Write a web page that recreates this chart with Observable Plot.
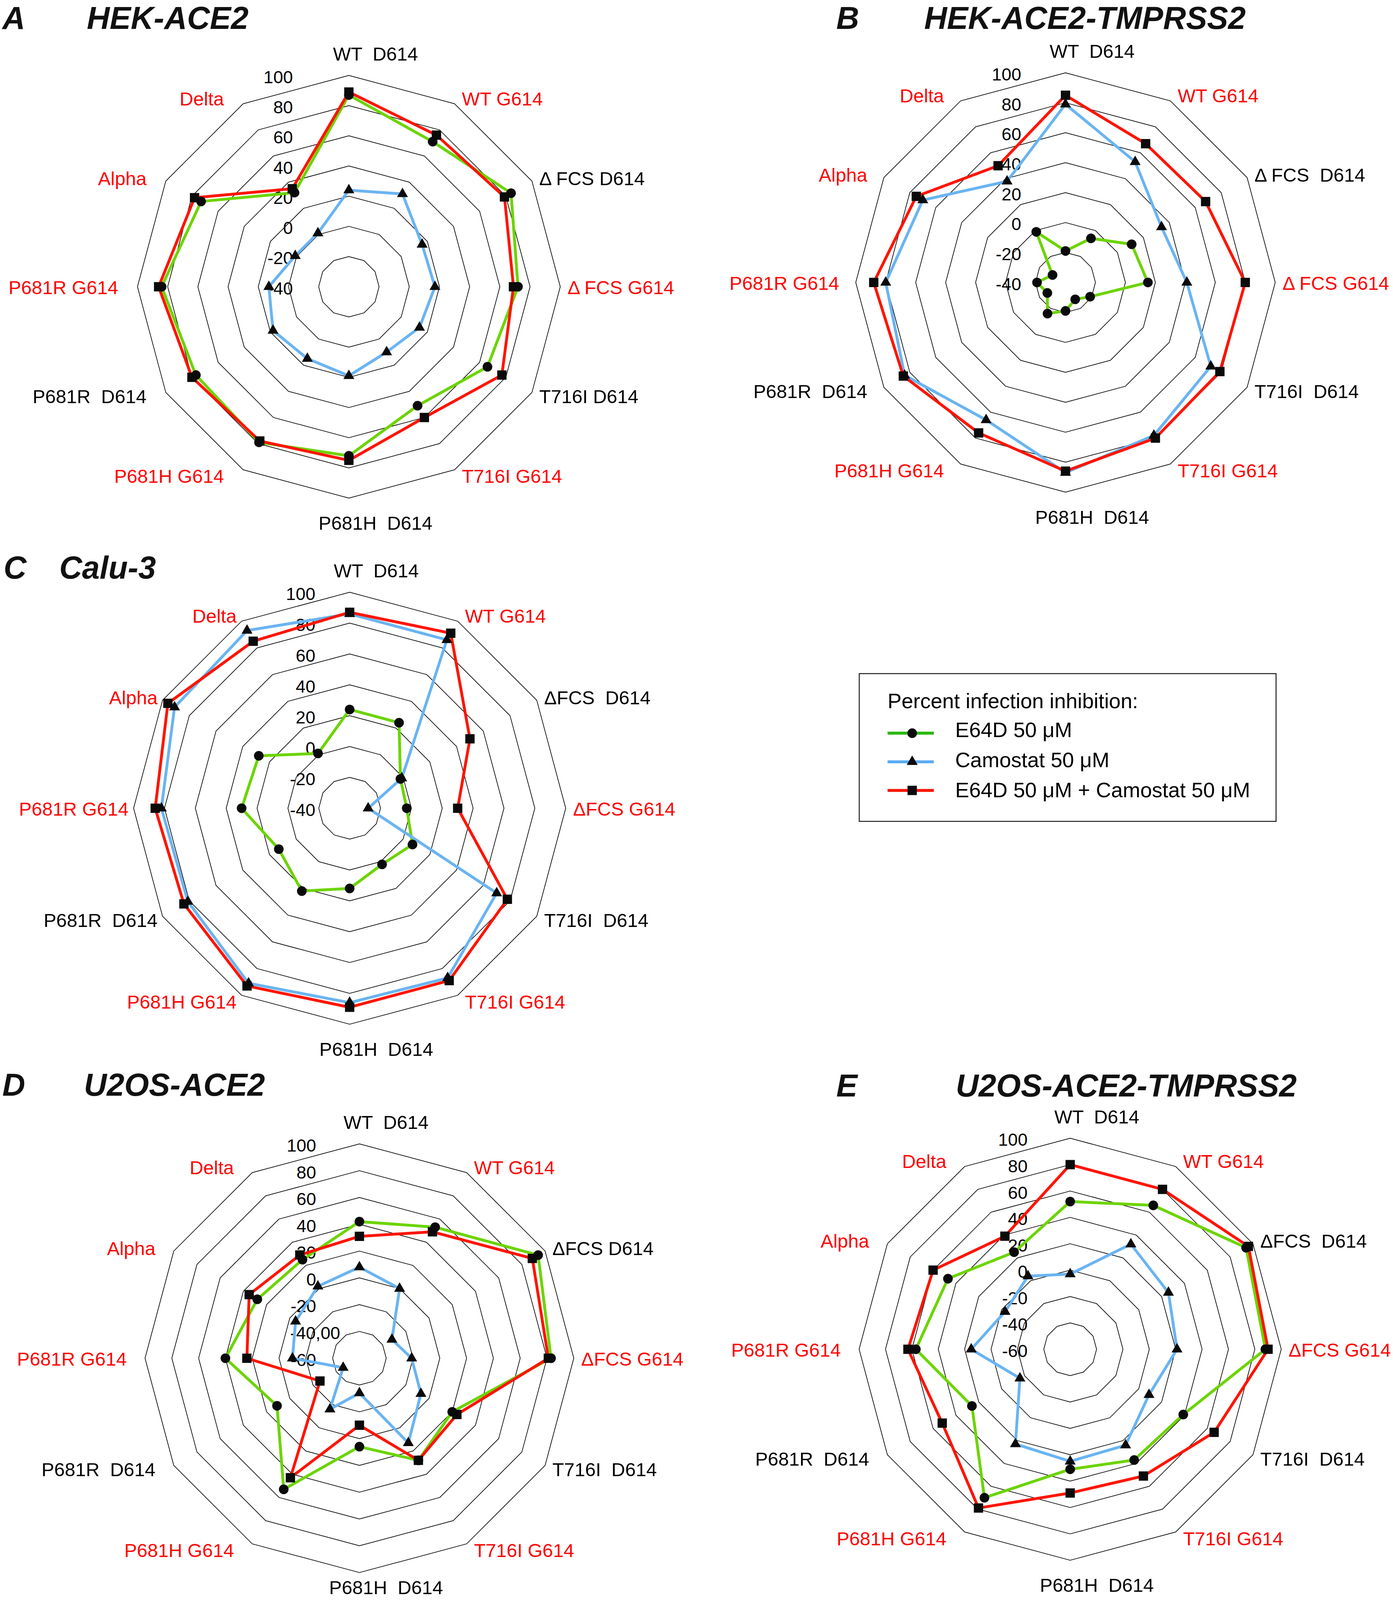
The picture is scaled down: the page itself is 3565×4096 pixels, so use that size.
<!DOCTYPE html>
<html><head><meta charset="utf-8">
<script src="https://cdn.jsdelivr.net/npm/d3@7"></script>
<script src="https://cdn.jsdelivr.net/npm/@observablehq/plot@0.6"></script>
<style>
html,body{margin:0;padding:0;background:#fff;}
#page{position:relative;width:3565px;height:4096px;overflow:hidden;background:#fff;}
.panel{position:absolute;}
#overlay{position:absolute;left:0;top:0;pointer-events:none;}
</style></head>
<body><div id="page"></div>
<script>
const S = 0.852;
const FONT = '"Liberation Sans", Arial, Helvetica, sans-serif';

// ---------------- data ----------------
const labelsA = ["WT  D614","WT G614","\u0394 FCS D614","\u0394 FCS G614","T716I D614","T716I G614","P681H  D614","P681H G614","P681R  D614","P681R G614","Alpha","Delta"];
const labelsB = ["WT  D614","WT G614","\u0394 FCS  D614","\u0394 FCS G614","T716I  D614","T716I G614","P681H  D614","P681H G614","P681R  D614","P681R G614","Alpha","Delta"];
const labelsC = ["WT  D614","WT G614","\u0394FCS  D614","\u0394FCS G614","T716I  D614","T716I G614","P681H  D614","P681H G614","P681R  D614","P681R G614","Alpha","Delta"];
const labelsD = ["WT  D614","WT G614","\u0394FCS D614","\u0394FCS G614","T716I  D614","T716I G614","P681H  D614","P681H G614","P681R  D614","P681R G614","Alpha","Delta"];
const labelsE = ["WT  D614","WT G614","\u0394FCS  D614","\u0394FCS G614","T716I  D614","T716I G614","P681H  D614","P681H G614","P681R  D614","P681R G614","Alpha","Delta"];
const labelColors = ["#000","#ff0000","#000","#ff0000","#000","#ff0000","#000","#ff0000","#000","#ff0000","#ff0000","#ff0000"];

const tickTextABC = ["100","80","60","40","20","0","-20","-40"];
const tickValsABC = [100,80,60,40,20,0,-20,-40];
const tickTextD = ["100","80","60","40","20","0","-20","-40,00","-60"];
const tickTextE = ["100","80","60","40","20","0","-20","-40","-60"];
const tickValsDE = [100,80,60,40,20,0,-20,-40,-60];

// Percent infection inhibition, in category order
const e64dA  = [87, 71, 84, 72, 66, 51, 72, 79, 77, 84, 73, 32];
const camoA  = [24, 31, 16, 17, 14, 10, 19, 15, 18, 13, 1, 1];
const comboA = [89, 76, 79, 69, 77, 60, 75, 78, 80, 86, 78, 35];

const e64dB  = [-19, -6, 11, 15, -21, -27, -21, -16, -26, -21, -30, -1];
const camoB  = [79, 53, 34, 41, 72, 78, 87, 66, 84, 80, 70, 38];
const comboB = [85, 67, 68, 80, 79, 80, 86, 76, 85, 88, 75, 50];

const e64dC  = [24, 24, -2, -3, 7, 2, 12, 22, 13, 30, 28, 1];
const camoC  = [86, 86, -1, -28, 70, 87, 86, 91, 81, 82, 91, 93];
const comboC = [87, 91, 50, 30, 78, 89, 89, 93, 84, 86, 96, 85];

const e64dD  = [42, 53, 94, 83, 20, 28, 6, 53, 11, 40, 28, 25];
const camoD  = [8, 0, -32, -21, -7, 13, -34, -16, -46, -10, -5, 2];
const comboD = [31, 49, 89, 81, 24, 28, -10, 43, -26, 24, 35, 29];

const e64dE  = [52, 66, 94, 88, 39, 37, 31, 70, 26, 57, 47, 25];
const camoE  = [-3, 32, 26, 21, 9, 24, 25, 23, -16, 15, -3, 4];
const comboE = [80, 80, 96, 90, 66, 51, 49, 79, 52, 63, 60, 39];

const legendTitle = "Percent infection inhibition:";
const seriesNames = ["E64D 50 \u03bcM", "Camostat 50 \u03bcM", "E64D 50 \u03bcM + Camostat 50 \u03bcM"];

// ---------------- styles ----------------
const GREEN = "#6cd400", BLUE = "#6ab4f2", RED = "#ff1400";
const LEG_GREEN = "#2cb811", LEG_BLUE = "#5aabf5";
const R_CIRCLE = 14.5, R_TRI = 12.2, R_SQ = 15.8, LINE_W = 8.5;

const panels = [
  {letter:"A", title:"HEK-ACE2", lx:7, tx:261, ty:87, cx:1047, cy:861, R:635, min:-40, max:100, leftGap:58, bottomGap:77,
   tickText:tickTextABC, tickVals:tickValsABC, tickOff:168, labels:labelsA, e64d:e64dA, camo:camoA, combo:comboA},
  {letter:"B", title:"HEK-ACE2-TMPRSS2", lx:2512, tx:2776, ty:87, cx:3200, cy:848, R:630, min:-40, max:100, leftGap:50, bottomGap:77,
   tickText:tickTextABC, tickVals:tickValsABC, tickOff:133, labels:labelsB, e64d:e64dB, camo:camoB, combo:comboB},
  {letter:"C", title:"Calu-3", lx:11, tx:178, ty:1738, cx:1050, cy:2428, R:649, min:-40, max:100, leftGap:15, bottomGap:77,
   tickText:tickTextABC, tickVals:tickValsABC, tickOff:103, labels:labelsC, e64d:e64dC, camo:camoC, combo:comboC},
  {letter:"D", title:"U2OS-ACE2", lx:7, tx:252, ty:3292, cx:1079, cy:4080, R:644, min:-60, max:100, leftGap:55, bottomGap:46,
   tickText:tickTextD, tickVals:tickValsDE, tickOff:130, labels:labelsD, e64d:e64dD, camo:camoD, combo:comboD},
  {letter:"E", title:"U2OS-ACE2-TMPRSS2", lx:2512, tx:2871, ty:3295, cx:3214, cy:4054, R:634, min:-60, max:100, leftGap:55, bottomGap:77,
   tickText:tickTextE, tickVals:tickValsDE, tickOff:128, labels:labelsE, e64d:e64dE, camo:camoE, combo:comboE}
];

const page = document.getElementById("page");

function radar(p) {
  const n = 12, span = p.max - p.min;
  const k = p.R * S / span;               // output px per unit
  const u = px => px * S / k;             // reference px -> data units
  const W = 2090 * S, H = 1640 * S, cxl = 1045 * S, cyl = 800 * S;
  const ang = i => i * Math.PI / 6;
  const pol = (r, i) => ({x: r * Math.sin(ang(i)), y: r * Math.cos(ang(i))});

  const rings = p.tickVals.filter(t => t > p.min).flatMap(t =>
    d3.range(n + 1).map(j => ({ring: t, ...pol(t - p.min, j % n)})));
  const closed = (vals, name) => d3.range(n + 1).map(j => ({name, ...pol(vals[j % n] - p.min, j % n)}));
  const pts = vals => vals.map((v, i) => pol(v - p.min, i));

  const ticks = p.tickText.map((t, i) => ({t, wide: t.includes(","),
    x: t.includes(",") ? -u(p.tickOff + 78) : -u(p.tickOff), y: p.tickVals[i] - p.min - u(6)}));

  const labs = p.labels.map((t, i) => {
    const s = Math.sin(ang(i)), c = Math.cos(ang(i));
    let anchor, x, y;
    if (i === 0) { anchor = "middle"; x = u(80); y = span + u(63); }
    else if (i === 6) { anchor = "middle"; x = u(80); y = -span - u(p.bottomGap); }
    else if (s > 0) { anchor = "start"; x = span * s + u(22); y = span * c - u(4 - 20 * c); }
    else { anchor = "end"; x = span * s - u(p.leftGap); y = span * c - u(4 - 20 * c); }
    return {t, col: labelColors[i], anchor, x, y};
  });
  const labText = anchor => Plot.text(labs.filter(d => d.anchor === anchor), {
    x: "x", y: "y", text: "t", fill: "col", textAnchor: anchor, lineAnchor: "middle",
    fontSize: 57 * S, fontFamily: FONT});

  const lineOpts = col => ({x: "x", y: "y", stroke: col, strokeWidth: LINE_W * S, strokeLinejoin: "round", strokeLinecap: "round"});

  const plot = Plot.plot({
    width: W, height: H, margin: 0,
    x: {domain: [-cxl / k, (W - cxl) / k], axis: null},
    y: {domain: [-(H - cyl) / k, cyl / k], axis: null},
    color: {type: "identity"},
    style: {background: "transparent", overflow: "visible", fontFamily: FONT},
    marks: [
      Plot.line(rings, {x: "x", y: "y", z: "ring", stroke: "#000", strokeWidth: 2 * S}),
      Plot.text(ticks.filter(d => !d.wide), {x: "x", y: "y", text: "t", textAnchor: "end", lineAnchor: "middle", fontSize: 53 * S, fill: "#000", fontFamily: FONT}),
      Plot.text(ticks.filter(d => d.wide), {x: "x", y: "y", text: "t", textAnchor: "start", lineAnchor: "middle", fontSize: 53 * S, fill: "#000", fontFamily: FONT}),
      Plot.line(closed(p.e64d, "e64d"), lineOpts(GREEN)),
      Plot.line(closed(p.camo, "camo"), lineOpts(BLUE)),
      Plot.line(closed(p.combo, "combo"), lineOpts(RED)),
      Plot.dot(pts(p.e64d), {x: "x", y: "y", symbol: "circle", r: R_CIRCLE * S, fill: "#0a0a0a"}),
      Plot.dot(pts(p.camo), {x: "x", y: "y", symbol: "triangle", r: R_TRI * S, fill: "#0a0a0a"}),
      Plot.dot(pts(p.combo), {x: "x", y: "y", symbol: "square", r: R_SQ * S, fill: "#0a0a0a"}),
      labText("start"), labText("end"), labText("middle")
    ]
  });
  const div = document.createElement("div");
  div.className = "panel";
  div.style.left = ((p.cx - 1045) * S) + "px";
  div.style.top = ((p.cy - 800) * S) + "px";
  div.style.width = W + "px";
  div.style.height = H + "px";
  div.appendChild(plot);
  page.appendChild(div);
}
panels.forEach(radar);

// ---------------- titles and legend ----------------
const svg = d3.create("svg").attr("id", "overlay").attr("width", 3565).attr("height", 4096)
  .style("font-family", FONT);
panels.forEach(p => {
  svg.append("text").attr("x", p.lx * S).attr("y", p.ty * S).attr("font-size", 95 * S)
    .attr("font-weight", "bold").attr("font-style", "italic").attr("fill", "#111").text(p.letter);
  svg.append("text").attr("x", p.tx * S).attr("y", p.ty * S).attr("font-size", 95 * S)
    .attr("font-weight", "bold").attr("font-style", "italic").attr("fill", "#111").text(p.title);
});
const lg = svg.append("g");
lg.append("rect").attr("x", 2581 * S).attr("y", 2024 * S).attr("width", (3833 - 2581) * S).attr("height", (2468 - 2024) * S)
  .attr("fill", "#fff").attr("stroke", "#222").attr("stroke-width", 3 * S);
lg.append("text").attr("x", 2666 * S).attr("y", 2128 * S).attr("font-size", 63 * S).attr("fill", "#000").text(legendTitle);
const legCols = [LEG_GREEN, LEG_BLUE, RED];
const legLineY = [2203, 2289, 2375];
const legTextY = [2215, 2305, 2395];
const sym = [d3.symbolCircle, d3.symbolTriangle, d3.symbolSquare];
const symR = [R_CIRCLE, R_TRI, R_SQ];
seriesNames.forEach((name, i) => {
  const y = legLineY[i] * S;
  lg.append("line").attr("x1", 2666 * S).attr("x2", 2805 * S).attr("y1", y).attr("y2", y)
    .attr("stroke", legCols[i]).attr("stroke-width", 9 * S);
  lg.append("path").attr("d", d3.symbol(sym[i], Math.PI * Math.pow(symR[i] * S, 2))())
    .attr("transform", `translate(${2740 * S},${y})`).attr("fill", "#0a0a0a");
  lg.append("text").attr("x", 2869 * S).attr("y", legTextY[i] * S).attr("font-size", 63 * S).attr("fill", "#000").text(name);
});
page.appendChild(svg.node());
</script>
</body></html>
